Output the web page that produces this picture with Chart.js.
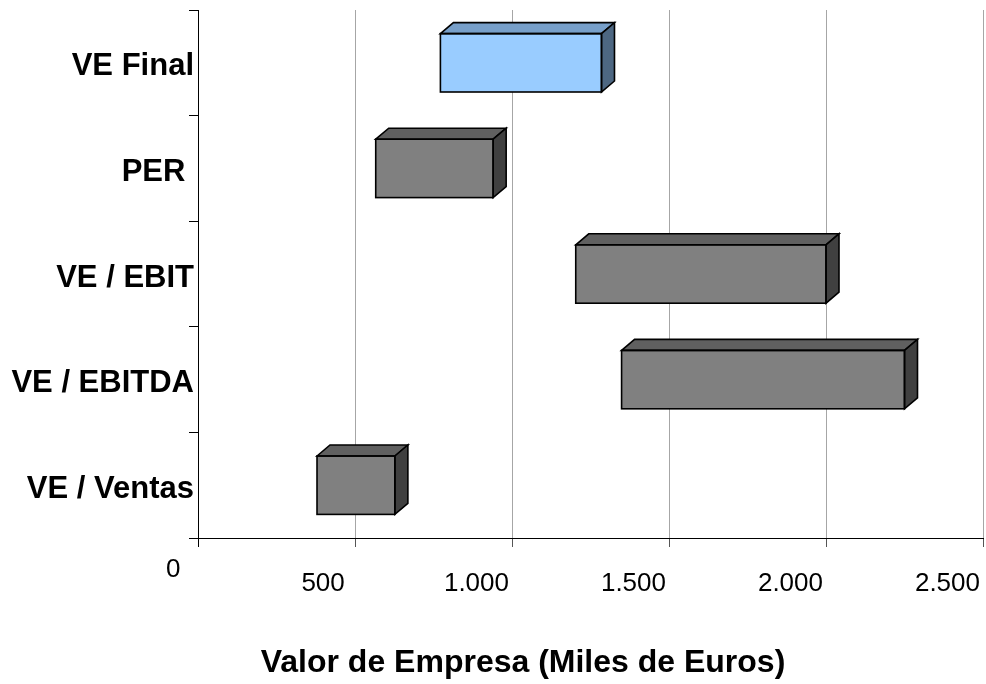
<!DOCTYPE html>
<html>
<head>
<meta charset="utf-8">
<script src="https://cdn.jsdelivr.net/npm/chart.js@4.4.1/dist/chart.umd.min.js"></script>
<style>
  html, body { margin: 0; padding: 0; background: #ffffff; }
  #wrap { width: 986px; height: 684px; }
</style>
</head>
<body>
<div id="wrap"><canvas id="chart" width="986" height="684"></canvas></div>
<script>
// Valuation ranges per method (thousands of euros)
const categories = ['VE Final', 'PER ', 'VE / EBIT', 'VE / EBITDA', 'VE / Ventas'];
const rangeLow   = [772, 566, 1203, 1349, 379];
const rangeHigh  = [1285, 940, 2000, 2250, 627];
const valueTicks = [0, 500, 1000, 1500, 2000, 2500];
const axisCaption = 'Valor de Empresa (Miles de Euros)';

const FONT = '"Liberation Sans", Arial, Helvetica, sans-serif';

// Face colours for the extruded boxes: the final value stands out in blue
const FACES = {
  highlight: { front: '#99ccff', top: '#779fc9', side: '#4d6782' },
  normal:    { front: '#808080', top: '#606060', side: '#404040' }
};
const faceSet = i => (categories[i] === 'VE Final' ? FACES.highlight : FACES.normal);

// Depth of the pseudo-3D extrusion
const DEPTH_X = 13;
const DEPTH_Y = 11;

function formatThousands(v) {
  return String(v).replace(/\B(?=(\d{3})+(?!\d))/g, '.');
}

// Draws the top and right faces of each bar plus the front outline
const boxFaces = {
  id: 'boxFaces',
  afterDatasetsDraw(chart) {
    const ctx = chart.ctx;
    const meta = chart.getDatasetMeta(0);
    meta.data.forEach((bar, i) => {
      const p = bar.getProps(['x', 'y', 'base', 'height'], true);
      const left = Math.min(p.x, p.base);
      const right = Math.max(p.x, p.base);
      const top = p.y - p.height / 2;
      const bottom = p.y + p.height / 2;
      const f = faceSet(i);
      ctx.save();
      ctx.lineWidth = 1.6;
      ctx.strokeStyle = '#000000';
      ctx.lineJoin = 'miter';
      // top face
      ctx.beginPath();
      ctx.moveTo(left, top);
      ctx.lineTo(left + DEPTH_X, top - DEPTH_Y);
      ctx.lineTo(right + DEPTH_X, top - DEPTH_Y);
      ctx.lineTo(right, top);
      ctx.closePath();
      ctx.fillStyle = f.top;
      ctx.fill();
      ctx.stroke();
      // side face
      ctx.beginPath();
      ctx.moveTo(right, top);
      ctx.lineTo(right + DEPTH_X, top - DEPTH_Y);
      ctx.lineTo(right + DEPTH_X, bottom - DEPTH_Y);
      ctx.lineTo(right, bottom);
      ctx.closePath();
      ctx.fillStyle = f.side;
      ctx.fill();
      ctx.stroke();
      // front outline
      ctx.strokeRect(left, top, right - left, bottom - top);
      ctx.restore();
    });
  }
};

// Value-axis caption below the tick labels
const axisCaptionPlugin = {
  id: 'axisCaption',
  afterDraw(chart) {
    const ctx = chart.ctx;
    const area = chart.chartArea;
    ctx.save();
    ctx.font = 'bold 32px ' + FONT;
    ctx.fillStyle = '#000000';
    ctx.textAlign = 'center';
    ctx.textBaseline = 'middle';
    ctx.fillText(axisCaption, area.left + 325, chart.height - 21);
    ctx.restore();
  }
};

const noScalePadding = s => {
  s.paddingLeft = 0;
  s.paddingRight = 0;
  s.paddingTop = 0;
  s.paddingBottom = 0;
};

new Chart(document.getElementById('chart'), {
  type: 'bar',
  data: {
    labels: categories,
    datasets: [{
      data: categories.map((_, i) => [rangeLow[i], rangeHigh[i]]),
      backgroundColor: c => faceSet(c.dataIndex).front,
      borderColor: '#000000',
      borderWidth: 0,
      borderSkipped: false,
      categoryPercentage: 1,
      barPercentage: 0.553
    }]
  },
  options: {
    indexAxis: 'y',
    responsive: false,
    animation: false,
    devicePixelRatio: 1,
    layout: { padding: { top: 10, right: 3, left: 0, bottom: 0 } },
    plugins: {
      legend: { display: false },
      tooltip: { enabled: false }
    },
    scales: {
      x: {
        type: 'linear',
        min: valueTicks[0],
        max: valueTicks[valueTicks.length - 1],
        afterBuildTicks: s => { s.ticks = valueTicks.map(v => ({ value: v })); },
        afterFit: s => { s.height = 146; noScalePadding(s); },
        ticks: {
          align: 'end',
          labelOffset: -3,
          padding: 21,
          color: '#000000',
          font: c => ({
            family: FONT,
            size: 26,
            lineHeight: (c.tick && c.tick.value === 0) ? '4px' : 1.2
          }),
          callback: v => {
            const s = formatThousands(v);
            if (v === 0) return s + '  ';
            if (v === 500) return s + ' ';
            return s;
          }
        },
        grid: {
          drawOnChartArea: true,
          color: c => (c.tick && c.tick.value === 0 ? '#000000' : '#a6a6a6'),
          tickColor: c => (c.tick && c.tick.value === 0 ? '#000000' : '#555555'),
          lineWidth: 1,
          tickLength: 9
        },
        border: { display: true, color: '#000000', width: 1 }
      },
      y: {
        afterFit: s => { s.width = 198; noScalePadding(s); },
        ticks: {
          color: '#000000',
          padding: -5,
          labelOffset: 4,
          font: { family: FONT, size: 31, weight: 'bold' }
        },
        grid: {
          drawOnChartArea: false,
          color: '#000000',
          lineWidth: 1,
          tickLength: 9
        },
        border: { display: true, color: '#000000', width: 1 }
      }
    }
  },
  plugins: [boxFaces, axisCaptionPlugin]
});
</script>
</body>
</html>
